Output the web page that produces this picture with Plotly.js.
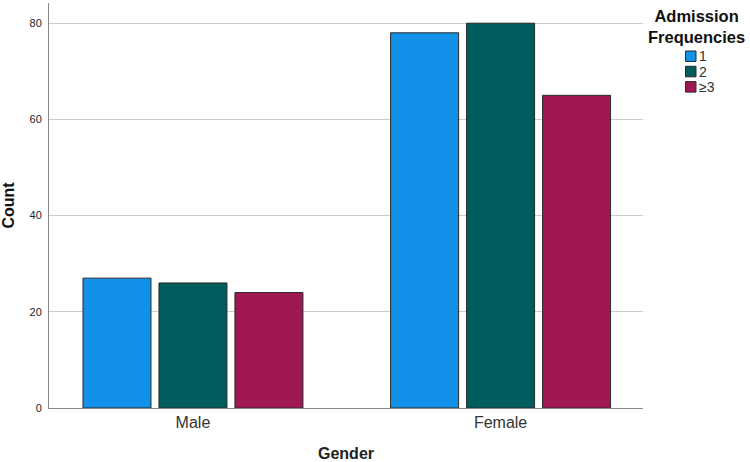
<!DOCTYPE html>
<html>
<head>
<meta charset="utf-8">
<script src="https://cdn.plot.ly/plotly-3.0.1.min.js"></script>
<style>html,body{margin:0;padding:0;background:#fff;}#chart{width:750px;height:462px;}</style>
</head>
<body>
<div id="chart"></div>
<script>
const categories = ["Male", "Female"];
const seriesNames = ["1", "2", "≥3"];
const series1 = [27, 78];
const series2 = [26, 80];
const series3 = [24, 65];
const yTicks = [0, 20, 40, 60, 80];
const colors = ["#1192e8", "#005d5d", "#9f1853"];
const legendTitleLines = ["Admission", "Frequencies"];

const allSeries = [series1, series2, series3];
const traces = allSeries.map((vals, i) => ({
  type: "bar",
  name: seriesNames[i],
  x: categories,
  y: vals,
  marker: { color: colors[i], line: { color: "#2a2a2a", width: 1 } },
  showlegend: false
}));

const font = "Liberation Sans, Arial, sans-serif";
const W = 750, H = 462;
const M = { l: 49, r: 107, t: 3, b: 54 };
const pw = W - M.l - M.r, ph = H - M.t - M.b;
const px2x = p => (p - M.l) / pw;
const px2y = p => (H - M.b - p) / ph;

// Legend drawn as shapes + annotations (compact SPSS-style spacing)
const shapes = [];
const annotations = [];
seriesNames.forEach((name, i) => {
  const top = 51 + i * 15.3;
  shapes.push({
    type: "rect", xref: "paper", yref: "paper",
    x0: px2x(685.5), x1: px2x(696), y0: px2y(top + 10.5), y1: px2y(top),
    fillcolor: colors[i], line: { color: "#2a2a2a", width: 1 }
  });
  annotations.push({
    text: name, xref: "paper", yref: "paper",
    x: px2x(697), y: px2y(top + 5.5), xanchor: "left", yanchor: "middle",
    showarrow: false, font: { size: 14, color: "#333", family: font }
  });
});
annotations.push({
  text: "<b>" + legendTitleLines.join("<br>") + "</b>", xref: "paper", yref: "paper",
  x: px2x(696.5), y: px2y(26), xanchor: "center", yanchor: "middle",
  showarrow: false, align: "center", font: { size: 16.5, color: "#111", family: font }
});

const layout = {
  width: W, height: H,
  margin: M,
  paper_bgcolor: "#fff", plot_bgcolor: "#fff",
  barmode: "group",
  bargap: 0.259,
  bargroupgap: 0.105,
  showlegend: false,
  font: { family: font, color: "#222" },
  xaxis: {
    type: "category",
    range: [-0.468, 1.463],
    showline: true, linecolor: "#888", linewidth: 1,
    showgrid: false, ticks: "",
    tickfont: { size: 16, color: "#333", family: font },
    title: { text: "<b>Gender</b>", font: { size: 16, color: "#222", family: font }, standoff: 17 }
  },
  yaxis: {
    range: [0, 84.2],
    tickvals: yTicks,
    showline: true, linecolor: "#888", linewidth: 1,
    showgrid: true, gridcolor: "#cccccc", gridwidth: 1,
    zeroline: false, ticks: "",
    ticklabelstandoff: 4,
    tickfont: { size: 11, color: "#222", family: font },
    title: { text: "<b>Count</b>", font: { size: 16, color: "#111", family: font }, standoff: 13 }
  },
  shapes: shapes,
  annotations: annotations
};

Plotly.newPlot("chart", traces, layout, { displayModeBar: false, staticPlot: true });
</script>
</body>
</html>
